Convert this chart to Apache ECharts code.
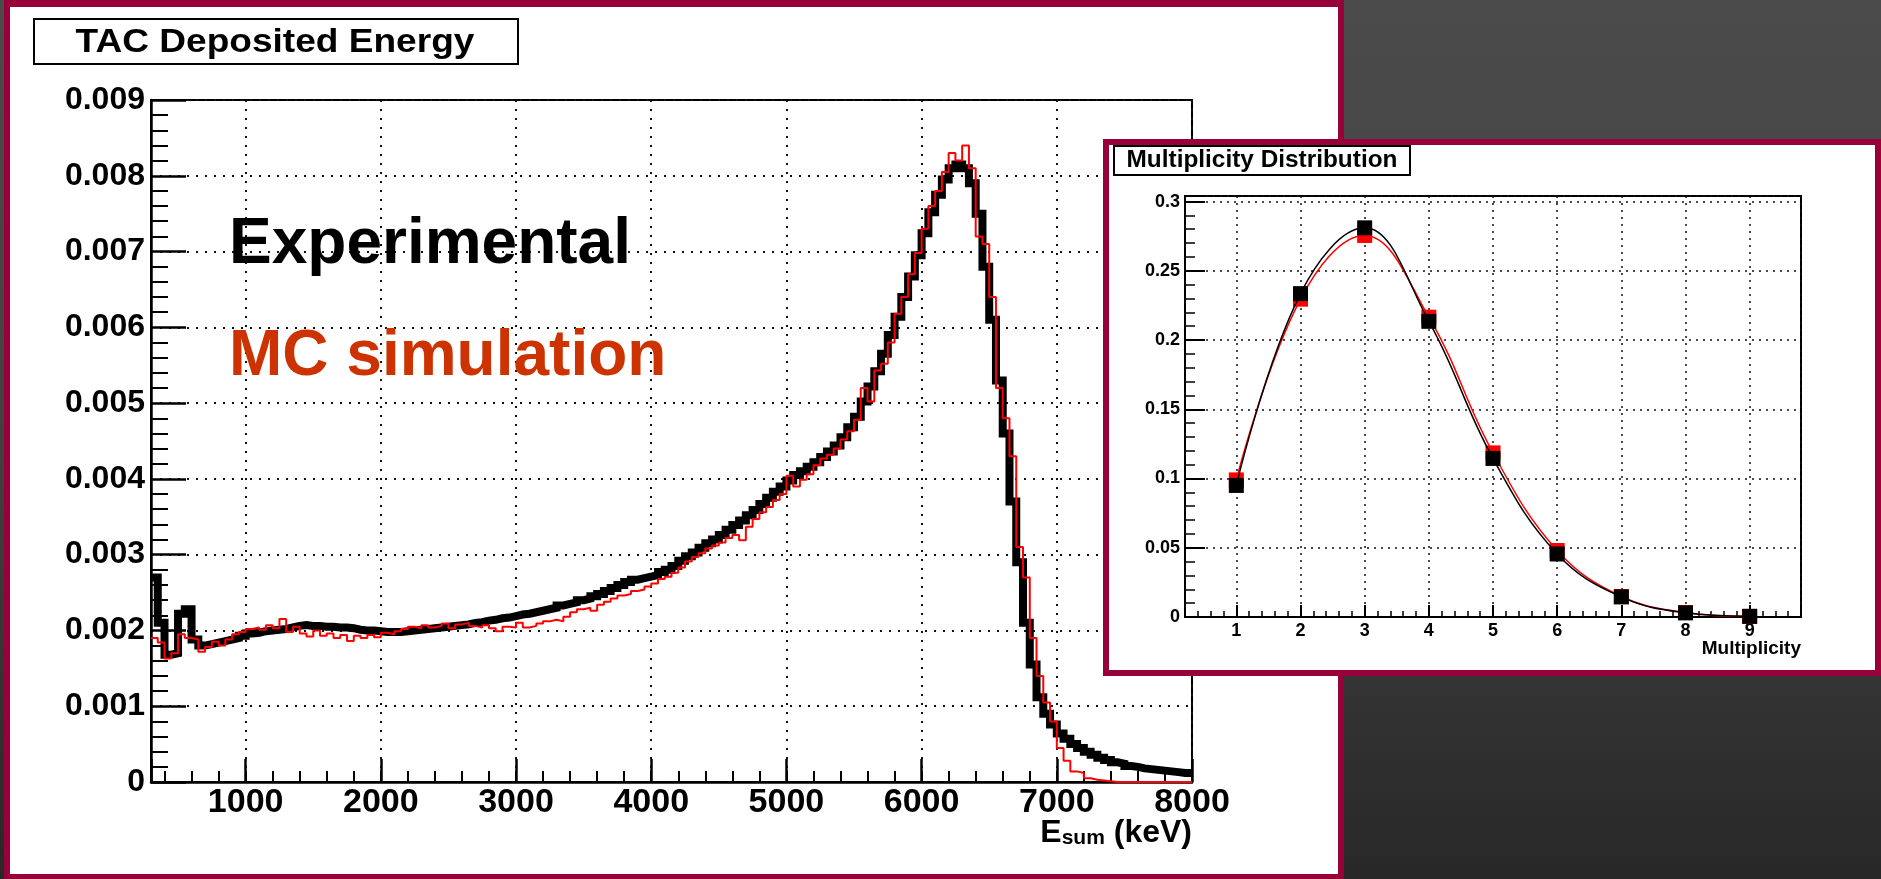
<!DOCTYPE html>
<html>
<head>
<meta charset="utf-8">
<title>TAC Deposited Energy</title>
<script src="https://cdn.jsdelivr.net/npm/echarts@6/dist/echarts.min.js"></script>
<style>
  html, body { margin: 0; padding: 0; width: 1881px; height: 879px; overflow: hidden; }
  body { position: relative; background: linear-gradient(to bottom, #4b4b4b 0%, #414141 50%, #282828 100%); }
  .panel { position: absolute; box-sizing: border-box; background: #fff; border: 6px solid #98003a; }
  #mainPanel { left: 4px; top: 0; width: 1340px; height: 879px; border-top-width: 7px; border-bottom-width: 5px; }
  #insetPanel { left: 1103px; top: 139px; width: 778px; height: 537px; }
  .chart { position: absolute; left: 0; top: 0; width: 1881px; height: 879px; }
</style>
</head>
<body>
<div id="mainPanel" class="panel"></div>
<div id="mainChart" class="chart"></div>
<div id="insetPanel" class="panel"></div>
<div id="insetChart" class="chart"></div>
<script>
// ---- Summed TAC energy spectrum, 50 keV bins starting at 300 keV ----
const binStart = 300;     // keV, lower edge of the first bin
const binWidth = 50;      // keV
const energyMax = 8000;   // keV

// Experimental spectrum (normalised counts per bin)
const experimental = [
  0.0027, 0.0021, 0.00168, 0.0017, 0.00222, 0.00228, 0.00188, 0.0018, 0.00182, 0.00184,
  0.00186, 0.00188, 0.0019, 0.00193, 0.00196, 0.00197, 0.00199, 0.002, 0.00201, 0.00202,
  0.00204, 0.00206, 0.00207, 0.00206, 0.00206, 0.00205, 0.00205, 0.00204, 0.00204, 0.00203,
  0.00201, 0.002, 0.002, 0.00199, 0.00198, 0.00198, 0.00198, 0.00199, 0.002, 0.00201,
  0.00202, 0.00203, 0.00204, 0.00205, 0.00206, 0.00207, 0.00208, 0.0021, 0.00211, 0.00213,
  0.00214, 0.00216, 0.00217, 0.00219, 0.00221, 0.00222, 0.00224, 0.00226, 0.00228, 0.0023,
  0.00233, 0.00235, 0.00237, 0.0024, 0.00242, 0.00245, 0.00248, 0.00252, 0.00256, 0.0026,
  0.00264, 0.00267, 0.00269, 0.00271, 0.00273, 0.00277, 0.0028, 0.00285, 0.00292, 0.00298,
  0.00303, 0.00309, 0.00315, 0.0032, 0.00326, 0.00333, 0.00339, 0.00345, 0.00352, 0.00359,
  0.00367, 0.00375, 0.00383, 0.0039, 0.00398, 0.00405, 0.0041, 0.00416, 0.00422, 0.00429,
  0.00436, 0.00444, 0.00455, 0.00468, 0.00482, 0.00502, 0.00522, 0.00542, 0.00565, 0.0059,
  0.00614, 0.0064, 0.00667, 0.00695, 0.00724, 0.00752, 0.00775, 0.00795, 0.0081, 0.00815,
  0.0081, 0.0079, 0.0075, 0.0068, 0.0061, 0.0053, 0.0046, 0.0037, 0.0029, 0.0021,
  0.00155, 0.00112, 0.0009, 0.00076, 0.00064, 0.00057, 0.0005, 0.00045, 0.0004, 0.00036,
  0.00032, 0.00029, 0.00026, 0.00024, 0.00021, 0.0002, 0.00018, 0.00017, 0.00016, 0.00015,
  0.00014, 0.00013, 0.00012, 0.00012
];

// Monte Carlo simulation of the same spectrum
const simulation = [
  0.0019, 0.00184, 0.00163, 0.0017, 0.00195, 0.0019, 0.00188, 0.00172, 0.00178, 0.00185,
  0.0018, 0.00188, 0.00195, 0.00198, 0.00202, 0.00204, 0.00201, 0.00207, 0.00203, 0.00215,
  0.00198, 0.00205, 0.00196, 0.00192, 0.002, 0.00193, 0.00196, 0.0019, 0.00194, 0.00186,
  0.00193, 0.0019, 0.00194, 0.00191, 0.00197, 0.00195, 0.00199, 0.00202, 0.00205, 0.00203,
  0.00207, 0.00204, 0.00206, 0.00209, 0.00203, 0.00208, 0.0021, 0.00206, 0.00204, 0.00207,
  0.00203, 0.00199, 0.00205, 0.00204, 0.0021, 0.00204, 0.00206, 0.00209, 0.00212, 0.00214,
  0.00212, 0.00218, 0.00224, 0.00228, 0.0023, 0.00226, 0.00234, 0.00238, 0.00242, 0.00246,
  0.00248, 0.00252, 0.00254, 0.00258, 0.00262, 0.00268, 0.00271, 0.00276, 0.00283, 0.00291,
  0.00297, 0.00302, 0.00308, 0.00312, 0.00316, 0.00322, 0.00326, 0.00319, 0.00337, 0.00347,
  0.00356, 0.00363, 0.00372, 0.0038, 0.00404, 0.0039, 0.00399, 0.00406, 0.00418, 0.00427,
  0.00432, 0.0044, 0.00452, 0.00463, 0.00478, 0.0052, 0.00502, 0.00543, 0.00552, 0.0058,
  0.00618, 0.0064, 0.0067, 0.00698, 0.0073, 0.0076, 0.0078, 0.00805, 0.0083, 0.0082,
  0.0084, 0.0081, 0.0072, 0.0071, 0.0064, 0.0052, 0.0048, 0.0043, 0.0031, 0.0027,
  0.0019, 0.0014, 0.00105, 0.0008, 0.00045, 0.00028, 0.00014, 0.00012, 0.00005, 0.00003,
  0.00002, 0.00001, 0, 0, 0, 0, 0, 0, 0, 0,
  0, 0, 0, 0
];

// ---- Multiplicity distribution ----
const multiplicity = [1, 2, 3, 4, 5, 6, 7, 8, 9];
const multExperimental = [0.095, 0.2335, 0.281, 0.2135, 0.1145, 0.0455, 0.0145, 0.003, 0.0005];
const multSimulation   = [0.099, 0.2295, 0.2755, 0.2165, 0.1185, 0.048, 0.0148, 0.0032, 0.0004];

const FONT = '"Liberation Sans", Arial, Helvetica, sans-serif';
const BLACK = '#000000';
const RED = '#ff0000';
const dotted = { type: [2, 7], color: '#111', width: 2 };

// Histogram as step line: each bin value held from its lower edge to the next edge
function histogramPoints(values) {
  const pts = values.map((v, i) => [binStart + i * binWidth, v]);
  pts.push([energyMax, values[values.length - 1]]);
  return pts;
}

// ================= Main spectrum =================
const mainChart = echarts.init(document.getElementById('mainChart'), null, { renderer: 'canvas' });
mainChart.setOption({
  animation: false,
  textStyle: { fontFamily: FONT },
  grid: {
    left: 151, top: 100, width: 1041, height: 682,
    show: true, borderColor: BLACK, borderWidth: 2, backgroundColor: 'transparent',
    outerBoundsMode: 'none'
  },
  xAxis: [
    {
      type: 'value', min: binStart, max: energyMax, minInterval: 1000, maxInterval: 1000,
      position: 'bottom',
      axisLine: { show: true, onZero: false, lineStyle: { color: BLACK, width: 2.5 } },
      axisTick: { show: true, inside: true, length: 23, lineStyle: { color: BLACK, width: 2.5 } },
      axisLabel: {
        show: true, margin: 4, fontSize: 34, fontWeight: 'bold', color: BLACK, fontFamily: FONT,
        formatter: v => (v % 1000 === 0 ? String(v) : '')
      },
      splitLine: { show: true, lineStyle: dotted },
      name: '{e|E}{s|sum}{e| (keV)}',
      nameLocation: 'end', nameGap: 0, nameMoveOverlap: false,
      nameTextStyle: {
        align: 'right', verticalAlign: 'top', padding: [35, 0, 0, 0],
        rich: {
          e: { fontSize: 32, fontWeight: 'bold', lineHeight: 32, color: BLACK, fontFamily: FONT },
          s: { fontSize: 21, fontWeight: 'bold', lineHeight: 12, verticalAlign: 'bottom', color: BLACK, fontFamily: FONT }
        }
      }
    },
    {
      // minor ticks every 200 keV
      type: 'value', min: binStart, max: energyMax, minInterval: 200, maxInterval: 200,
      position: 'bottom', offset: 0,
      axisLine: { show: false },
      axisTick: { show: true, inside: true, length: 11, lineStyle: { color: BLACK, width: 2 } },
      axisLabel: { show: false },
      splitLine: { show: false }
    }
  ],
  yAxis: [
    {
      type: 'value', min: 0, max: 0.009, interval: 0.001,
      axisLine: { show: true, onZero: false, lineStyle: { color: BLACK, width: 2.5 } },
      axisTick: { show: true, inside: true, length: 35, lineStyle: { color: BLACK, width: 2.5 } },
      minorTick: { show: true, splitNumber: 5, length: 17, lineStyle: { color: BLACK, width: 2 } },
      axisLabel: { margin: 6, fontSize: 32, fontWeight: 'bold', color: BLACK, fontFamily: FONT },
      splitLine: { show: true, lineStyle: dotted }
    }
  ],
  series: [
    {
      name: 'Experimental', type: 'line', step: 'end', xAxisIndex: 0, yAxisIndex: 0,
      data: histogramPoints(experimental), showSymbol: false, symbol: 'none',
      lineStyle: { color: BLACK, width: 8, join: 'miter' }, z: 3
    },
    {
      name: 'MC simulation', type: 'line', step: 'end', xAxisIndex: 0, yAxisIndex: 0,
      data: histogramPoints(simulation), showSymbol: false, symbol: 'none',
      lineStyle: { color: RED, width: 2 }, z: 4
    }
  ],
  graphic: [
    {
      type: 'rect', shape: { x: 34, y: 19, width: 484, height: 45 },
      style: { fill: '#fff', stroke: BLACK, lineWidth: 2 }, z: 10
    },
    {
      type: 'text', x: 275, y: 43, scaleX: 1.09,
      style: { text: 'TAC Deposited Energy', font: 'bold 34px ' + FONT, fill: BLACK, align: 'center', verticalAlign: 'middle' },
      z: 11
    },
    {
      type: 'text', x: 229, y: 245,
      style: { text: 'Experimental', font: 'bold 64px ' + FONT, fill: BLACK, align: 'left', verticalAlign: 'middle' },
      z: 11
    },
    {
      type: 'text', x: 229, y: 357,
      style: { text: 'MC simulation', font: 'bold 64px ' + FONT, fill: '#cc3300', align: 'left', verticalAlign: 'middle' },
      z: 11
    }
  ]
});

// ================= Inset: multiplicity =================
const insetChart = echarts.init(document.getElementById('insetChart'), null, { renderer: 'canvas' });
const isMultipleOf = (v, step) => Math.abs(v / step - Math.round(v / step)) < 1e-6;
insetChart.setOption({
  animation: false,
  textStyle: { fontFamily: FONT },
  grid: {
    left: 1185, top: 196, width: 616, height: 421,
    show: true, borderColor: BLACK, borderWidth: 2, backgroundColor: 'transparent',
    outerBoundsMode: 'none'
  },
  xAxis: [
    {
      type: 'value', min: 0.2, max: 9.8, minInterval: 1, maxInterval: 1,
      position: 'bottom',
      axisLine: { show: true, onZero: false, lineStyle: { color: BLACK, width: 2 } },
      axisTick: { show: true, inside: true, length: 12, lineStyle: { color: BLACK, width: 2 } },
      axisLabel: {
        margin: 5, fontSize: 18, fontWeight: 'bold', color: BLACK, fontFamily: FONT,
        formatter: v => (isMultipleOf(v, 1) ? String(Math.round(v)) : '')
      },
      splitLine: { show: true, lineStyle: { type: [2, 5], color: '#111', width: 1.5 } },
      name: 'Multiplicity', nameLocation: 'end', nameGap: 0, nameMoveOverlap: false,
      nameTextStyle: {
        align: 'right', verticalAlign: 'top', padding: [22, 0, 0, 0],
        fontSize: 19, fontWeight: 'bold', color: BLACK, fontFamily: FONT
      }
    },
    {
      // minor ticks every 0.2
      type: 'value', min: 0.2, max: 9.8, minInterval: 0.2, maxInterval: 0.2,
      position: 'bottom', offset: 0,
      axisLine: { show: false },
      axisTick: { show: true, inside: true, length: 6, lineStyle: { color: BLACK, width: 1.5 } },
      axisLabel: { show: false },
      splitLine: { show: false }
    }
  ],
  yAxis: [
    {
      type: 'value', min: 0, max: 0.304, interval: 0.05,
      axisLine: { show: true, onZero: false, lineStyle: { color: BLACK, width: 2 } },
      axisTick: { show: true, inside: true, length: 20, lineStyle: { color: BLACK, width: 2 } },
      axisLabel: {
        margin: 5, fontSize: 18, fontWeight: 'bold', color: BLACK, fontFamily: FONT,
        formatter: v => (isMultipleOf(v, 0.05) ? String(+v.toFixed(2)) : '')
      },
      splitLine: { show: true, lineStyle: { type: [2, 5], color: '#111', width: 1.5 } }
    },
    {
      // minor ticks every 0.01
      type: 'value', min: 0, max: 0.304, interval: 0.01,
      position: 'left', offset: 0,
      axisLine: { show: false },
      axisTick: { show: true, inside: true, length: 10, lineStyle: { color: BLACK, width: 1.5 } },
      axisLabel: { show: false },
      splitLine: { show: false }
    }
  ],
  series: [
    {
      name: 'MC simulation', type: 'line', xAxisIndex: 0, yAxisIndex: 0,
      data: multiplicity.map((m, i) => [m, multSimulation[i]]),
      smooth: 0.4, symbol: 'rect', symbolSize: 15, showSymbol: true,
      lineStyle: { color: RED, width: 1.5 }, itemStyle: { color: RED }, z: 3
    },
    {
      name: 'Experimental', type: 'line', xAxisIndex: 0, yAxisIndex: 0,
      data: multiplicity.map((m, i) => [m, multExperimental[i]]),
      smooth: 0.4, symbol: 'rect', symbolSize: 15, showSymbol: true,
      lineStyle: { color: BLACK, width: 1.5 }, itemStyle: { color: BLACK }, z: 4
    }
  ],
  graphic: [
    {
      type: 'rect', shape: { x: 1114, y: 146, width: 296, height: 29 },
      style: { fill: '#fff', stroke: BLACK, lineWidth: 2 }, z: 10
    },
    {
      type: 'text', x: 1262, y: 161, scaleX: 1.06,
      style: { text: 'Multiplicity Distribution', font: 'bold 23px ' + FONT, fill: BLACK, align: 'center', verticalAlign: 'middle' },
      z: 11
    }
  ]
});
</script>
</body>
</html>
